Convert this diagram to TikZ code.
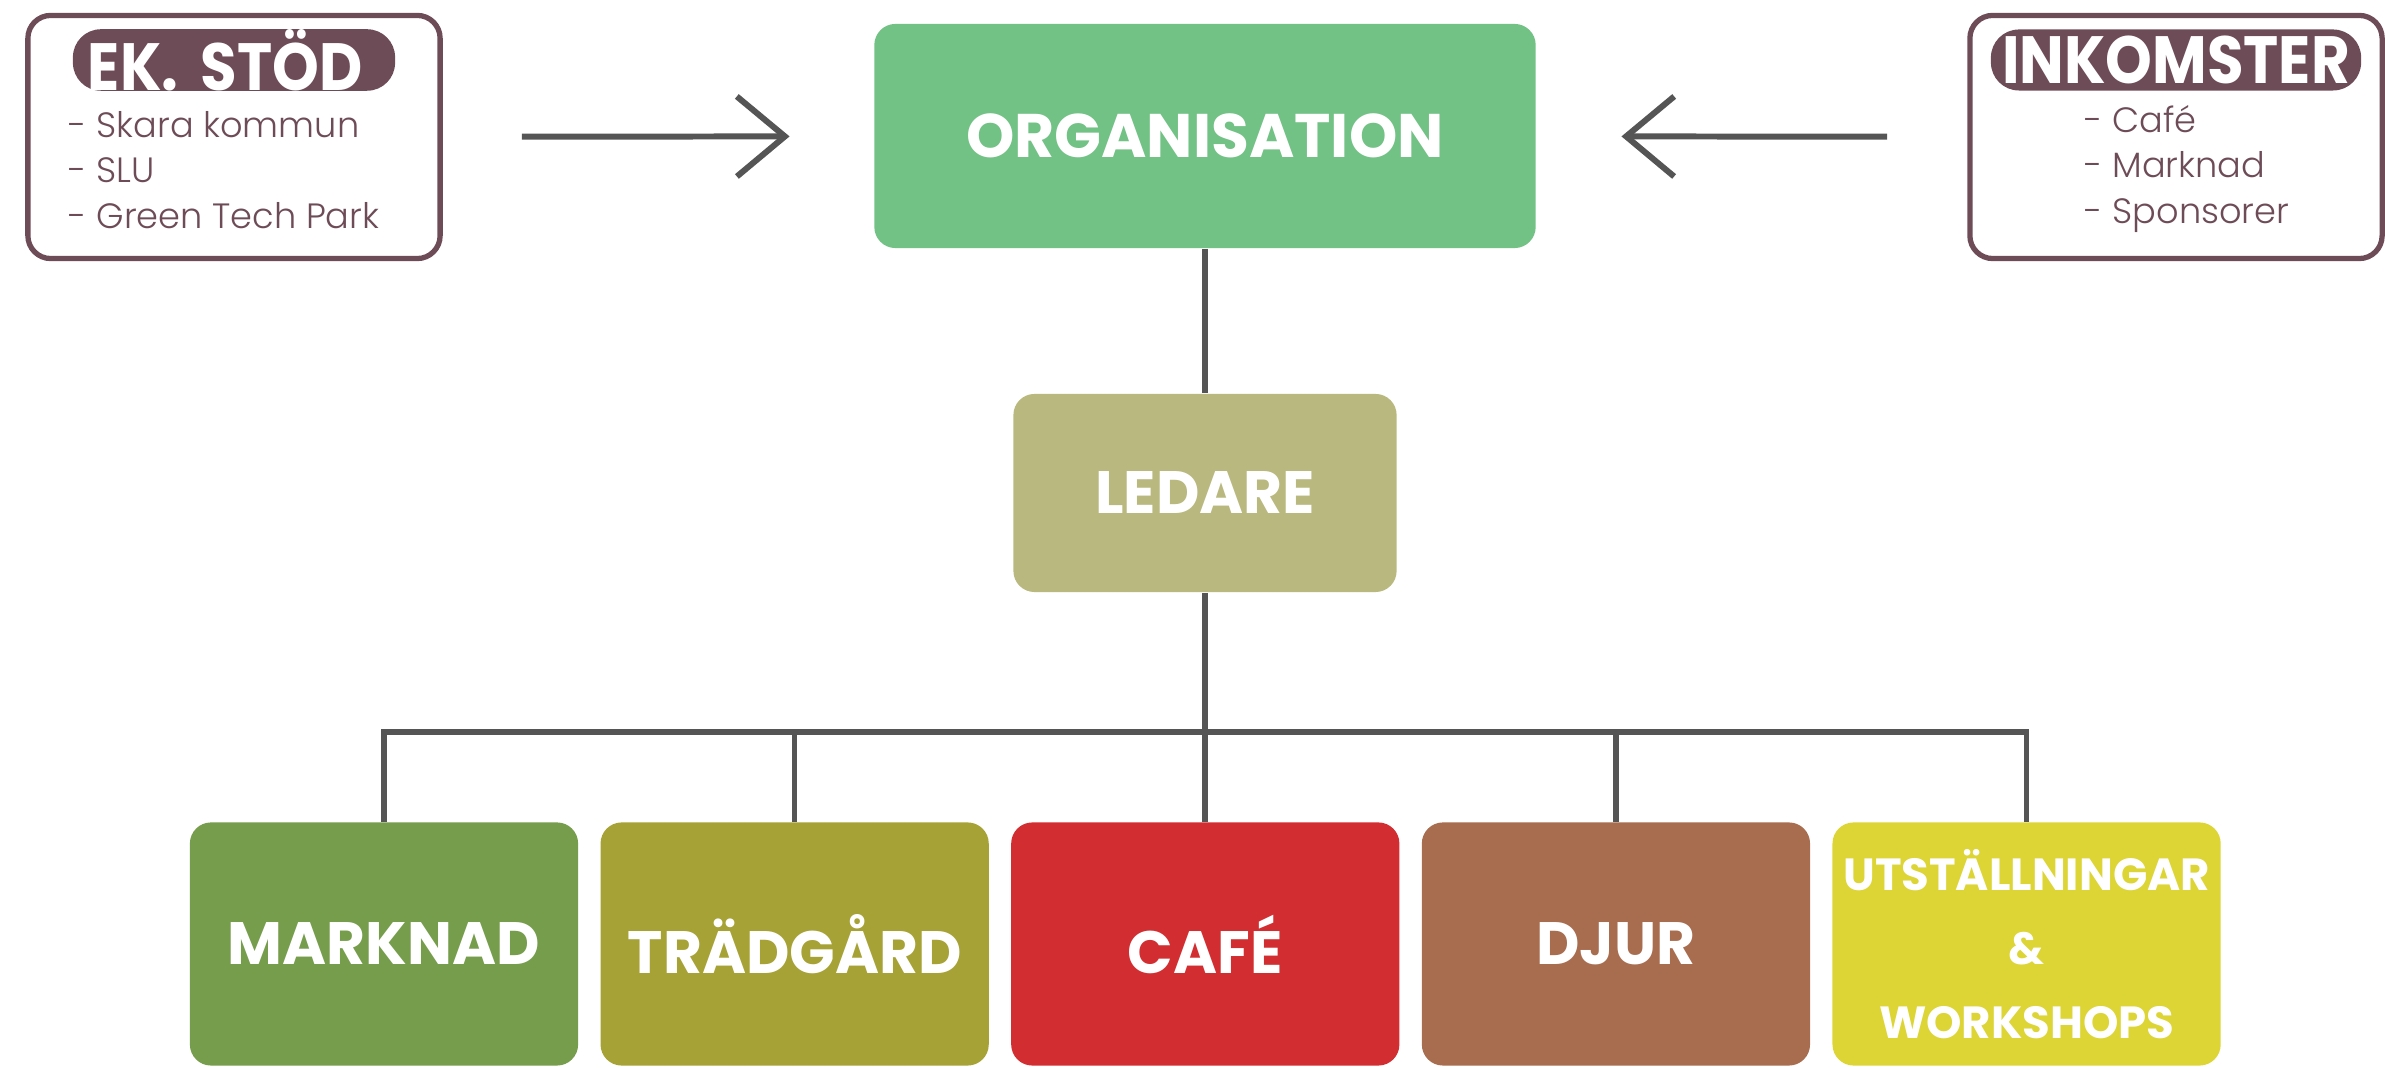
\documentclass[tikz,border=0pt]{standalone}
\usepackage{fontspec}
\setmainfont{Poppins}
\newfontfamily\lightfont{Poppins Light}
\newfontfamily\narrowfont[FakeStretch=0.89]{Poppins}
\usetikzlibrary{arrows.meta, positioning}
\definecolor{mauve}{HTML}{6E4C57}
\definecolor{linegrey}{HTML}{555555}
\definecolor{orggreen}{HTML}{72C185}
\definecolor{ledgreen}{HTML}{B8B87F}
\definecolor{markgreen}{HTML}{769D4C}
\definecolor{olive}{HTML}{A6A236}
\definecolor{cafered}{HTML}{D22D30}
\definecolor{brown}{HTML}{A86C4F}
\definecolor{lemon}{HTML}{DDD535}

\begin{document}
\begin{tikzpicture}[
      x=0.01cm, y=-0.01cm,
      conn/.style={draw=linegrey, line width=1.6pt},
      arr/.style={conn, line width=1.7pt, -{Straight Barb[length=4.8mm, width=8mm]}},
      unit/.style={rounded corners=6pt, minimum width=3.88cm, minimum height=2.43cm, inner sep=0pt,
        text=white, align=center, font=\bfseries\fontsize{17}{22}\selectfont},
      frame/.style={draw=mauve, line width=1.5pt, rounded corners=6.5pt, minimum width=4.12cm, minimum height=2.43cm},
      pill/.style={fill=mauve, rounded corners=2.8mm, minimum height=0.61cm, inner sep=0pt,
        text=white, font=\narrowfont\bfseries\fontsize{19}{22}\selectfont},
      items/.style={anchor=west, align=left, inner sep=0pt, text=mauve, font=\lightfont\fontsize{10}{13}\selectfont},
      ]
      \useasboundingbox (0,0) rectangle (2385,1068);

      % side boxes
      \node[frame]                          (ek)     at (234,137)  {};
      \node[pill, minimum width=3.22cm, text width=3.22cm, align=left]
                                            (ek_t)   at (234,60)   {\hspace*{1.5mm}EK. STÖD};
      \node[items]                          (ek_l)   at (68,170)   {- Skara kommun\\- SLU\\- Green Tech Park};

      \node[frame]                          (ink)    at (2176,137) {};
      \node[pill, minimum width=3.70cm]     (ink_t)  at (2176,60)  {INKOMSTER};
      \node[items]                          (ink_l)  at (2084,169) {- Café\\- Marknad\\- Sponsorer};

      % main boxes
      \node[unit, fill=orggreen, minimum width=6.61cm, minimum height=2.24cm,
            font=\bfseries\fontsize{17.5}{22}\selectfont]                    (org) at (1205,136) {ORGANISATION};
      \node[unit, fill=ledgreen, minimum width=3.83cm, minimum height=1.98cm] (led) at (1205,493) {LEDARE};

      \node[unit, fill=markgreen]                          (marknad)  at (384,944) {MARKNAD};
      \node[unit, fill=olive]    [right=0.21cm of marknad]  (tradgard)           {TRÄDGÅRD};
      \node[unit, fill=cafered]  [right=0.21cm of tradgard] (cafe)               {CAFÉ};
      \node[unit, fill=brown]    [right=0.21cm of cafe]     (djur)               {DJUR};
      \node[unit, fill=lemon, font=\bfseries\fontsize{12.8}{21}\selectfont]
                                 [right=0.21cm of djur]     (utst)               {UTSTÄLLNINGAR\\\&\\WORKSHOPS};

      % connectors
      \coordinate (bus) at (1205,732);
      \draw[conn] (org) -- (led);
      \draw[conn] (led) -- (bus);
      \foreach \n in {marknad, tradgard, cafe, djur, utst}
        \draw[conn] (\n.north) |- (bus);

      \draw[arr, shorten <=7.9mm, shorten >=8.4mm] (ek) -- (org);
      \draw[arr, shorten <=8.0mm, shorten >=8.5mm] (ink) -- (org);
    \end{tikzpicture}
\end{document}
